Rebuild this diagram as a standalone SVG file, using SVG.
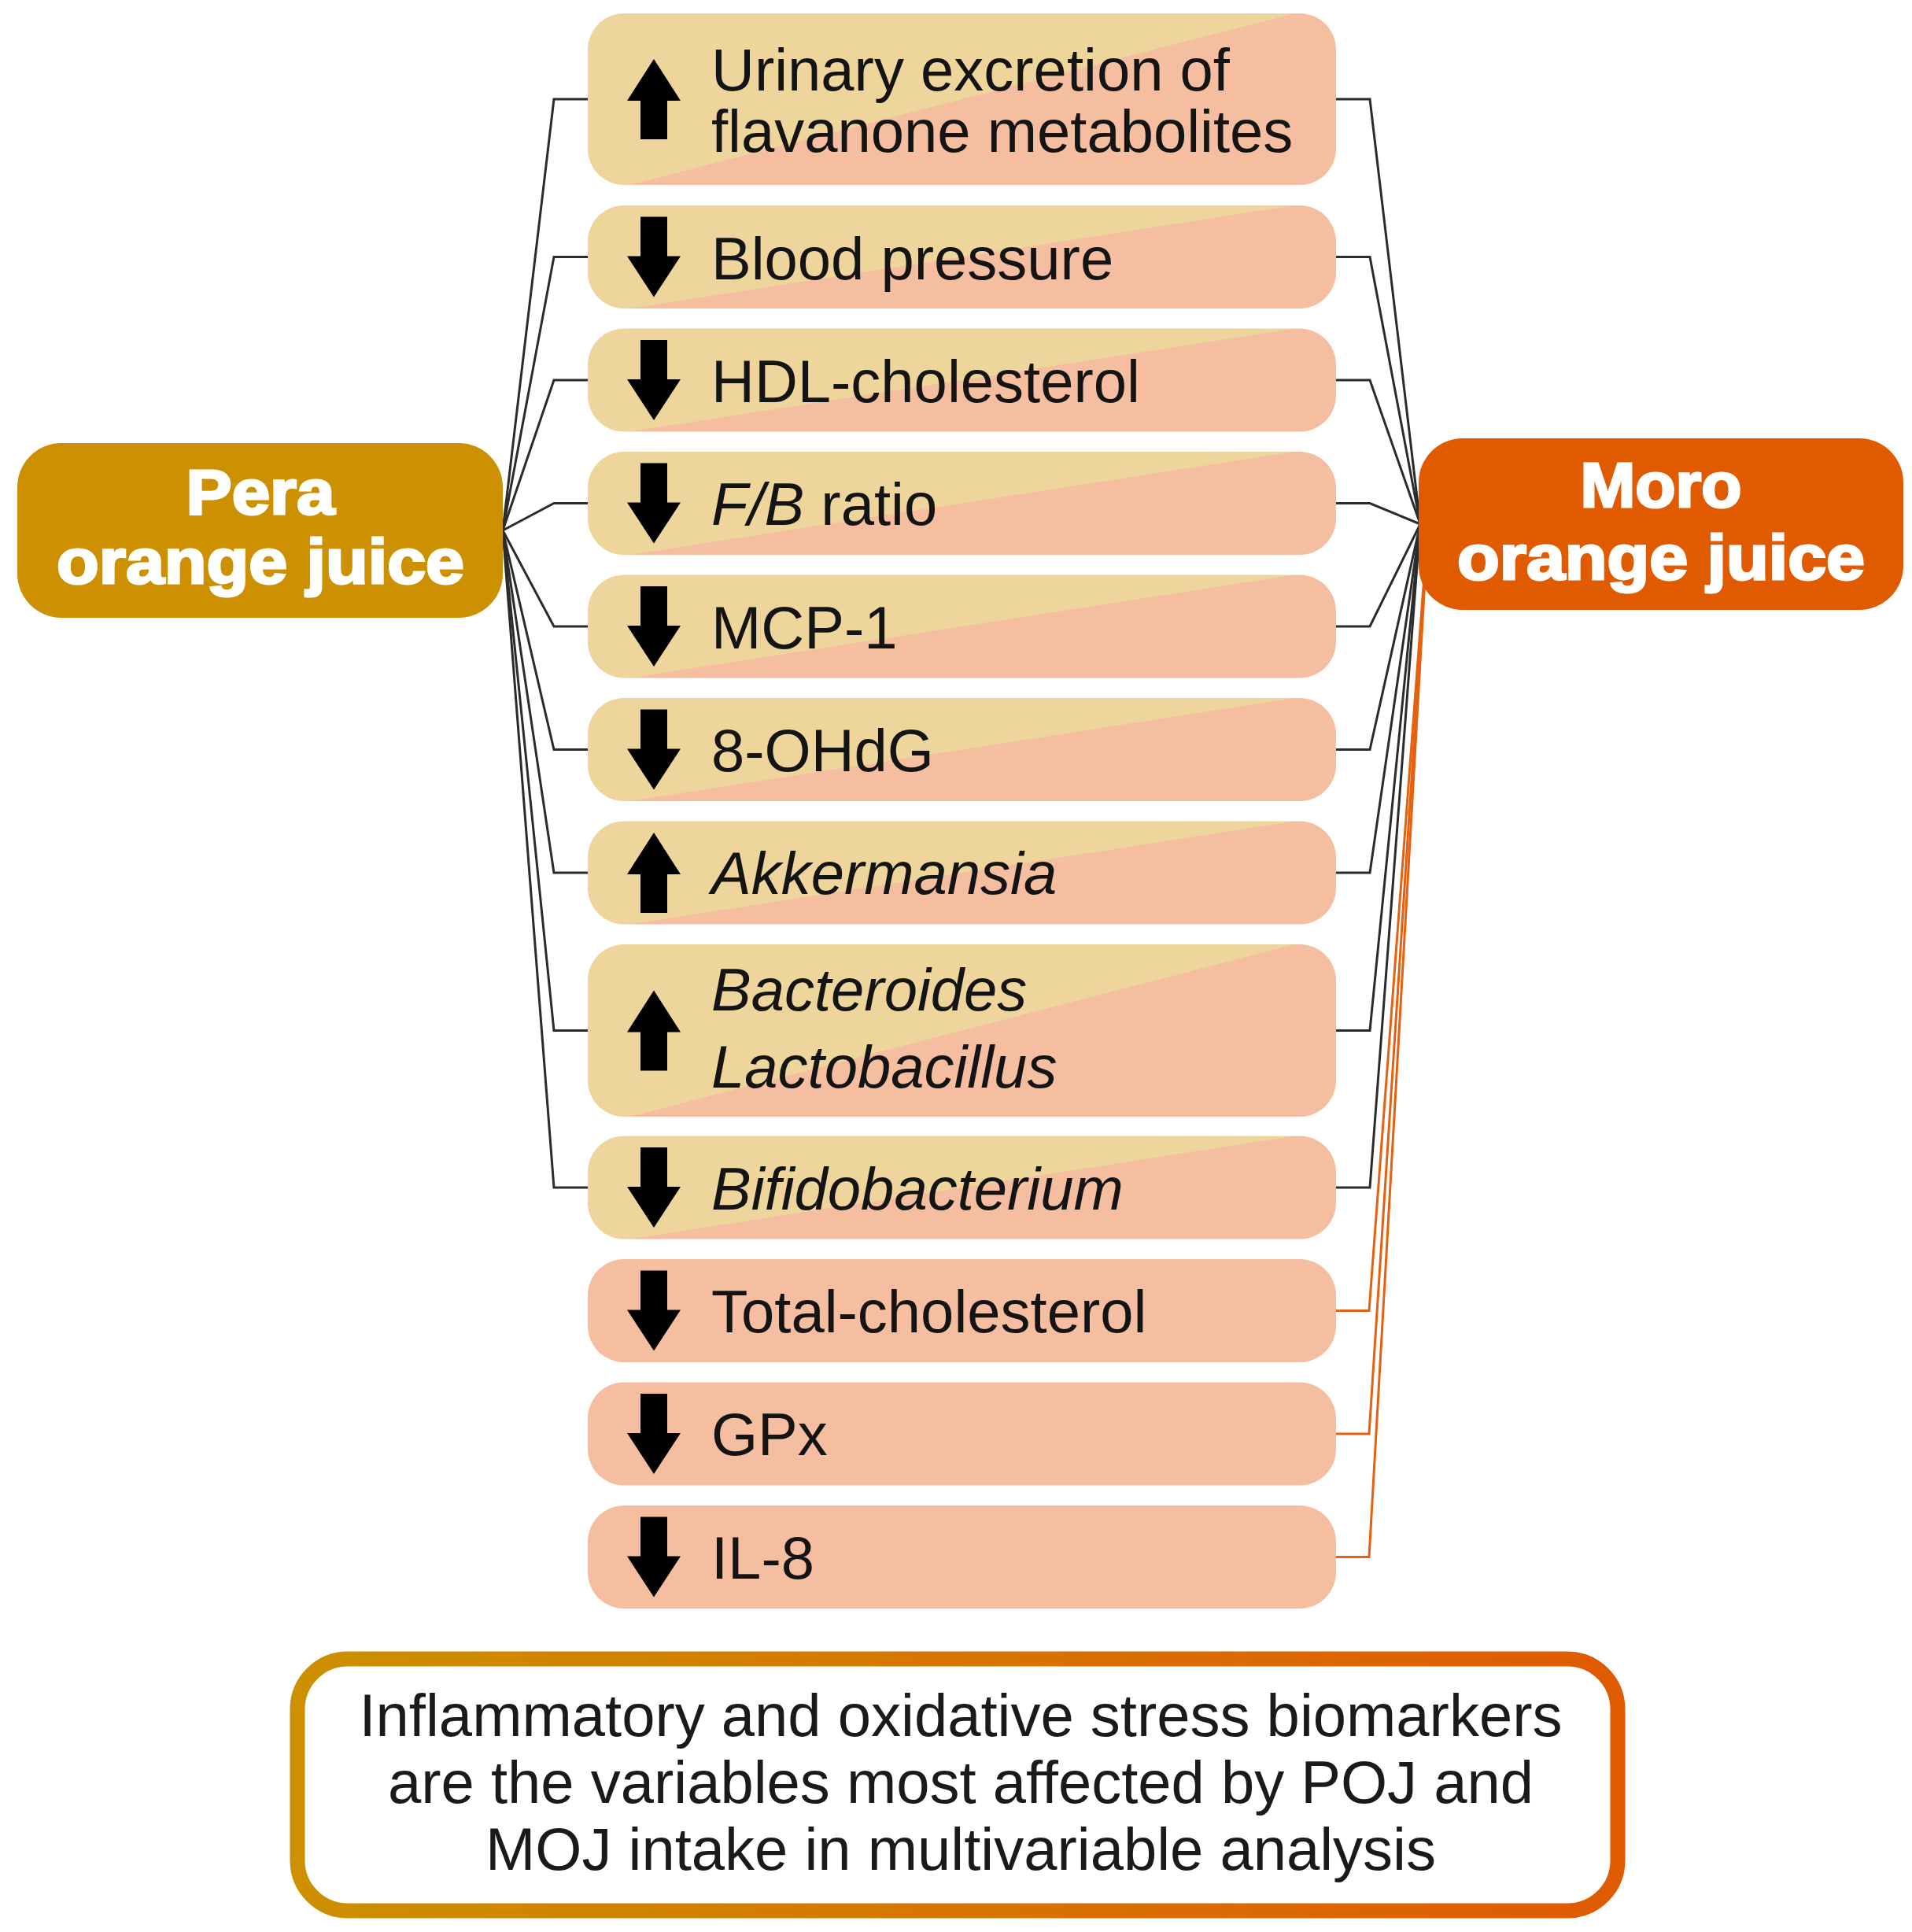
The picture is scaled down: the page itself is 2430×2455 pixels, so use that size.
<svg xmlns="http://www.w3.org/2000/svg" xmlns:xlink="http://www.w3.org/1999/xlink" width="2430" height="2455" viewBox="0 0 2430 2455">
<style>
.item{fill:url(#split)}
.plain{fill:#F6BEA0}
.lbl{font-family:"Liberation Sans",Arial,sans-serif;font-size:76px;fill:#141414}
.it{font-style:italic}
.hd{font-family:"Liberation Sans",Arial,sans-serif;font-weight:bold;font-size:80px;fill:#fff;stroke:#fff;stroke-width:3;text-anchor:middle}
.con{fill:none;stroke:#2b2b2b;stroke-width:3;stroke-linejoin:miter}
.conO{fill:none;stroke:#E5600F;stroke-width:3}
.arr{fill:#000}
.note{font-family:"Liberation Sans",Arial,sans-serif;font-size:76px;fill:#1a1a1a;text-anchor:middle}
</style>
<defs>
<linearGradient id="split" x1="0" y1="0.056" x2="1" y2="0.944">
<stop offset="0.5" stop-color="#EDD59B"/>
<stop offset="0.5" stop-color="#F6BEA0"/>
</linearGradient>
<linearGradient id="frame" x1="0" y1="0" x2="1" y2="0">
<stop offset="0" stop-color="#CC9000"/>
<stop offset="1" stop-color="#E05A00"/>
</linearGradient>
<path id="up" d="M0,-51 L34,2 L17,2 L17,51 L-17,51 L-17,2 L-34,2 Z"/>
<path id="dn" d="M0,51 L34,-1 L17,-1 L17,-51 L-17,-51 L-17,-1 L-34,-1 Z"/>
</defs>
<rect width="2430" height="2455" fill="#fff"/>

<g id="connectors">
<path class="con" d="M639,674 L704,126 L747,126"/>
<path class="con" d="M639,674 L704,326.5 L747,326.5"/>
<path class="con" d="M639,674 L704,483 L747,483"/>
<path class="con" d="M639,674 L704,639.5 L747,639.5"/>
<path class="con" d="M639,674 L704,796 L747,796"/>
<path class="con" d="M639,674 L704,952.5 L747,952.5"/>
<path class="con" d="M639,674 L704,1109 L747,1109"/>
<path class="con" d="M639,674 L704,1309.5 L747,1309.5"/>
<path class="con" d="M639,674 L704,1509 L747,1509"/>
<path class="conO" d="M1698,1665.5 L1740,1665.5 L1815,666"/>
<path class="conO" d="M1698,1822 L1740,1822 L1815,666"/>
<path class="conO" d="M1698,1978.5 L1740,1978.5 L1815,666"/>
<path class="con" d="M1698,126 L1741,126 L1805,666"/>
<path class="con" d="M1698,326.5 L1741,326.5 L1805,666"/>
<path class="con" d="M1698,483 L1741,483 L1805,666"/>
<path class="con" d="M1698,639.5 L1741,639.5 L1805,666"/>
<path class="con" d="M1698,796 L1741,796 L1805,666"/>
<path class="con" d="M1698,952.5 L1741,952.5 L1805,666"/>
<path class="con" d="M1698,1109 L1741,1109 L1805,666"/>
<path class="con" d="M1698,1309.5 L1741,1309.5 L1805,666"/>
<path class="con" d="M1698,1509 L1741,1509 L1805,666"/>
</g>

<g id="pera">
<rect x="22" y="563" width="617" height="222" rx="56" fill="#CC9000"/>
<text class="hd" x="331" y="653" textLength="189" lengthAdjust="spacingAndGlyphs">Pera</text>
<text class="hd" x="331" y="741" textLength="518" lengthAdjust="spacingAndGlyphs">orange juice</text>
</g>

<g id="moro">
<rect x="1803" y="557" width="616" height="218" rx="56" fill="#E05A00"/>
<text class="hd" x="2111" y="644" textLength="205" lengthAdjust="spacingAndGlyphs">Moro</text>
<text class="hd" x="2111" y="736" textLength="518" lengthAdjust="spacingAndGlyphs">orange juice</text>
</g>

<g id="item-urinary">
<rect class="item" x="747" y="17" width="951" height="218" rx="46"/>
<use href="#up" class="arr" x="831" y="126"/>
<text class="lbl" x="904" y="115">Urinary excretion of</text>
<text class="lbl" x="904" y="193">flavanone metabolites</text>
</g>
<g id="item-bp">
<rect class="item" x="747" y="261" width="951" height="131" rx="46"/>
<use href="#dn" class="arr" x="831" y="326.5"/>
<text class="lbl" x="904" y="355">Blood pressure</text>
</g>
<g id="item-hdl">
<rect class="item" x="747" y="417.5" width="951" height="131" rx="46"/>
<use href="#dn" class="arr" x="831" y="483"/>
<text class="lbl" x="904" y="511">HDL-cholesterol</text>
</g>
<g id="item-fb">
<rect class="item" x="747" y="574" width="951" height="131" rx="46"/>
<use href="#dn" class="arr" x="831" y="639.5"/>
<text class="lbl" x="904" y="667"><tspan class="it">F/B</tspan> ratio</text>
</g>
<g id="item-mcp1">
<rect class="item" x="747" y="730.5" width="951" height="131" rx="46"/>
<use href="#dn" class="arr" x="831" y="796"/>
<text class="lbl" x="904" y="824">MCP-1</text>
</g>
<g id="item-ohdg">
<rect class="item" x="747" y="887" width="951" height="131" rx="46"/>
<use href="#dn" class="arr" x="831" y="952.5"/>
<text class="lbl" x="904" y="980">8-OHdG</text>
</g>
<g id="item-akk">
<rect class="item" x="747" y="1043.5" width="951" height="131" rx="46"/>
<use href="#up" class="arr" x="831" y="1109"/>
<text class="lbl it" x="904" y="1136">Akkermansia</text>
</g>
<g id="item-bact">
<rect class="item" x="747" y="1200" width="951" height="219" rx="46"/>
<use href="#up" class="arr" x="831" y="1309.5"/>
<text class="lbl it" x="904" y="1284">Bacteroides</text>
<text class="lbl it" x="904" y="1382">Lactobacillus</text>
</g>
<g id="item-bifido">
<rect class="item" x="747" y="1443.5" width="951" height="131" rx="46"/>
<use href="#dn" class="arr" x="831" y="1509"/>
<text class="lbl it" x="904" y="1537">Bifidobacterium</text>
</g>
<g id="item-tc">
<rect class="plain" x="747" y="1600" width="951" height="131" rx="46"/>
<use href="#dn" class="arr" x="831" y="1665.5"/>
<text class="lbl" x="904" y="1693">Total-cholesterol</text>
</g>
<g id="item-gpx">
<rect class="plain" x="747" y="1756.5" width="951" height="131" rx="46"/>
<use href="#dn" class="arr" x="831" y="1822"/>
<text class="lbl" x="904" y="1849">GPx</text>
</g>
<g id="item-il8">
<rect class="plain" x="747" y="1913" width="951" height="131" rx="46"/>
<use href="#dn" class="arr" x="831" y="1978.5"/>
<text class="lbl" x="904" y="2006">IL-8</text>
</g>

<g id="summary">
<rect x="378" y="2108" width="1678" height="320" rx="64" fill="#fff" stroke="url(#frame)" stroke-width="19"/>
<text class="note" x="1221" y="2206">Inflammatory and oxidative stress biomarkers</text>
<text class="note" x="1221" y="2291">are the variables most affected by POJ and</text>
<text class="note" x="1221" y="2376">MOJ intake in multivariable analysis</text>
</g>
</svg>
